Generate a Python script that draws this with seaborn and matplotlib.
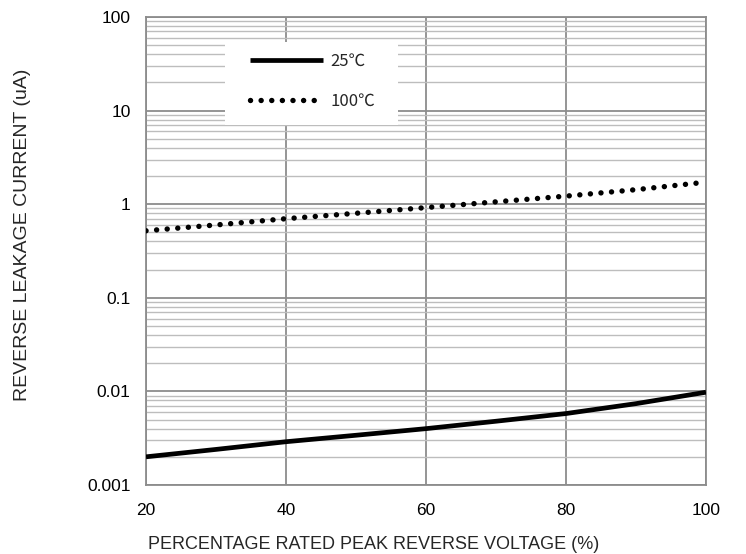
import matplotlib
matplotlib.use('Agg')
import matplotlib.pyplot as plt
import seaborn as sns
import pandas as pd
from matplotlib.patches import Rectangle
from matplotlib.ticker import LogLocator, FixedLocator, NullFormatter

voltage_pct = [20, 30, 40, 50, 60, 70, 80, 90, 100]
current_25c = [0.0020, 0.0024, 0.0029, 0.0034, 0.0040, 0.0048, 0.0058, 0.0074, 0.0098]
current_100c = [0.52, 0.60, 0.70, 0.80, 0.92, 1.06, 1.22, 1.43, 1.72]
x_ticks = [20, 40, 60, 80, 100]
y_ticks = [0.001, 0.01, 0.1, 1, 10, 100]
y_tick_labels = ['0.001', '0.01', '0.1', '1', '10', '100']

df = pd.DataFrame({'v': voltage_pct, 't25': current_25c, 't100': current_100c})

sns.set_style('white')
plt.rcParams['font.family'] = ['Liberation Sans', 'DejaVu Sans']

fig = plt.figure(figsize=(7.46, 5.54), dpi=100)
ax = fig.add_axes([146 / 746, 1 - 485 / 554, 560 / 746, 468 / 554])

sns.lineplot(data=df, x='v', y='t25', ax=ax, color='black', linewidth=3.4,
             label='25\u2103', solid_capstyle='butt', zorder=3)
sns.lineplot(data=df, x='v', y='t100', ax=ax, color='black', linewidth=3.9,
             label='100\u2103', linestyle=(0, (0.01, 1.95)), dash_capstyle='round', zorder=3)

ax.set_yscale('log')
ax.set_xlim(20, 100)
ax.set_ylim(0.001, 100)

ax.xaxis.set_major_locator(FixedLocator(x_ticks))
ax.set_yticks(y_ticks)
ax.set_yticklabels(y_tick_labels)
ax.yaxis.set_minor_locator(LogLocator(base=10, subs=range(2, 10)))
ax.yaxis.set_minor_formatter(NullFormatter())

ax.grid(which='major', axis='both', color='#8c8c8c', linewidth=1.3)
ax.grid(which='minor', axis='y', color='#bdbdbd', linewidth=1.0)
ax.set_axisbelow(True)

for s in ax.spines.values():
    s.set_color('#8c8c8c')
    s.set_linewidth(1.3)

ax.tick_params(which='major', direction='out', length=5, width=1.2, color='#8c8c8c',
               labelsize=12.5, colors='#8c8c8c', labelcolor='black', pad=6)
ax.tick_params(which='minor', length=0)
ax.tick_params(axis='x', pad=8)

ax.set_xlabel('PERCENTAGE RATED PEAK REVERSE VOLTAGE (%)', fontsize=13)
ax.xaxis.set_label_coords(0.406, -0.108)
ax.set_ylabel('REVERSE LEAKAGE CURRENT (uA)', fontsize=14)
ax.yaxis.set_label_coords(-0.205, 0.534)

# white box behind the legend
ax.add_patch(Rectangle((0.141, 0.769), 0.309, 0.178, transform=ax.transAxes,
                       facecolor='white', edgecolor='none', zorder=2.5))

leg = ax.legend(loc='upper left', bbox_to_anchor=(0.186, 0.923), frameon=False,
                handlelength=4.4, handletextpad=0.4, labelspacing=1.35,
                borderpad=0, borderaxespad=0,
                prop={'family': ['Noto Sans CJK SC', 'DejaVu Sans'], 'size': 12})
leg.set_zorder(4)

fig.savefig('out.png', dpi=100)
plt.close()
